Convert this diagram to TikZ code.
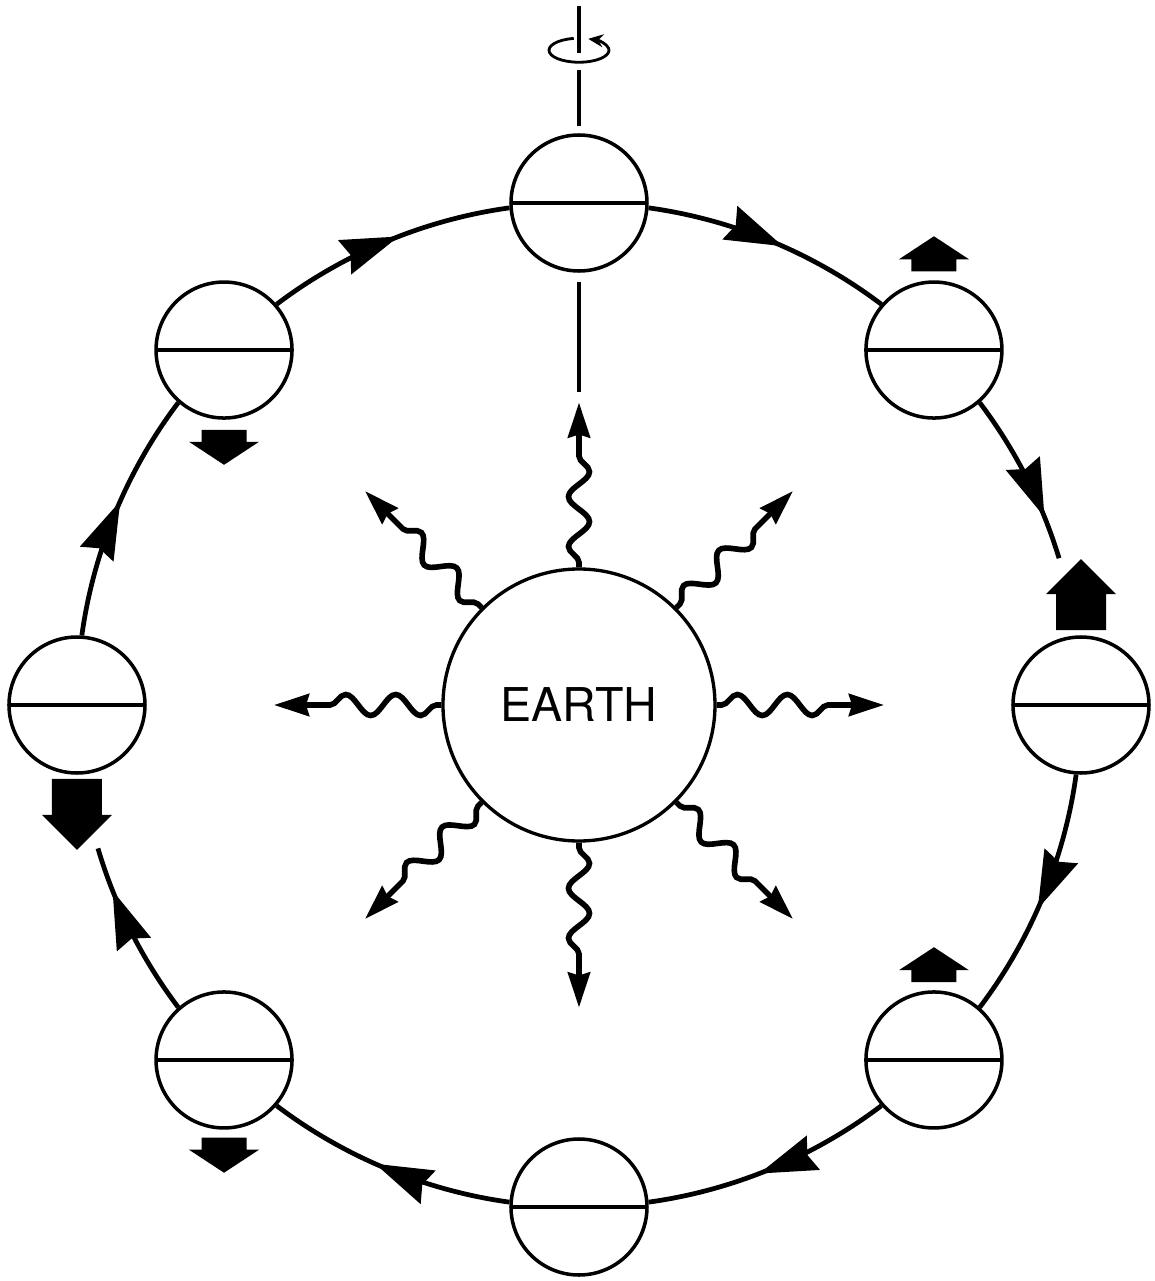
\documentclass[tikz,border=0pt]{standalone}
\usepackage{fontspec}
\setmainfont{TeX Gyre Heros}
\usepackage{tikz}
\usetikzlibrary{arrows.meta,decorations.pathmorphing,decorations.markings}

\begin{document}
\begin{tikzpicture}[
    earth/.style={draw, circle, line width=1.9pt, minimum size=5.44cm, inner sep=0pt, font=\fontsize{26.5}{30}\selectfont},
    sat/.style={draw, circle, line width=2pt, minimum size=2.72cm, inner sep=0pt,
      path picture={\draw[line width=2pt] (path picture bounding box.west) -- (path picture bounding box.east);}},
    orbit/.style={line width=2.7pt, looseness=0.86, postaction={decorate},
      decoration={markings, mark=at position #1 with {\arrow{Stealth[length=1.15cm, width=0.72cm, inset=0.12cm]}}}},
    orbit/.default=0.55,
    wave/.style={line width=3.2pt, decorate,
      decoration={snake, segment length=1cm, amplitude=0.21cm, pre length=0.1cm, post length=0.9cm},
      -{Stealth[length=0.7cm, width=0.44cm, inset=0.06cm]}},
    axis/.style={line width=1.9pt},
    smallblk/.pic={\fill (-0.45,0) -- (-0.45,0.24) -- (-0.7,0.24) -- (0,0.7) -- (0.7,0.24) -- (0.45,0.24) -- (0.45,0) -- cycle;},
    bigblk/.pic={\fill (-0.5,0) -- (-0.5,0.72) -- (-0.7,0.72) -- (0,1.42) -- (0.7,0.72) -- (0.5,0.72) -- (0.5,0) -- cycle;}
  ]
    \useasboundingbox (-11.58,-11.52) rectangle (11.5,14.1);

    \node[earth] (earth) at (0,0) {EARTH};

    \node[sat] (sN)  at (90:10.04)   {};
    \node[sat] (sNE) at (45:10.04)   {};
    \node[sat] (sE)  at (0:10.04)    {};
    \node[sat] (sSE) at (-45:10.04)  {};
    \node[sat] (sS)  at (-90:10.04)  {};
    \node[sat] (sSW) at (-135:10.04) {};
    \node[sat] (sW)  at (180:10.04)  {};
    \node[sat] (sNW) at (135:10.04)  {};

    \coordinate (gapE) at (17:10.04);
    \coordinate (gapW) at (196.6:10.04);

    \draw[orbit]      (sN.-4)    to[bend left=14.7] (sNE.139);
    \draw[orbit=0.75] (sNE.-49)  to[bend left=10.1] (gapE);
    \draw[orbit]      (sE.-94)   to[bend left=14.7] (sSE.49);
    \draw[orbit]      (sSE.-139) to[bend left=14.7] (sS.4);
    \draw[orbit]      (sS.176)   to[bend left=14.7] (sSW.-41);
    \draw[orbit=0.75] (sSW.131)  to[bend left=10.3] (gapW);
    \draw[orbit]      (sW.86)    to[bend left=14.7] (sNW.-131);
    \draw[orbit]      (sNW.41)   to[bend left=14.7] (sN.184);

    \pic at ([yshift=0.18cm]sNE.north) {smallblk};
    \pic at ([yshift=0.1cm]sE.north) {bigblk};
    \pic at ([yshift=0.16cm]sSE.north) {smallblk};
    \pic[rotate=180] at ([yshift=-0.2cm]sNW.south) {smallblk};
    \pic[rotate=180] at ([yshift=-0.08cm]sW.south) {bigblk};
    \pic[rotate=180] at ([yshift=-0.16cm]sSW.south) {smallblk};

    \draw[axis] ([yshift=0.14cm]sN.north) -- ([yshift=1.26cm]sN.north);
    \draw[axis] ([yshift=1.6cm]sN.north) -- ([yshift=2.54cm]sN.north);
    \draw[axis] ([yshift=-0.18cm]sN.south) -- ([yshift=-2.38cm]sN.south);
    \draw[line width=1.6pt, -{Stealth[length=0.3cm, width=0.26cm]}]
      ([yshift=1.66cm]sN.north) ++(100:0.6cm and 0.24cm)
      arc[start angle=100, end angle=432, x radius=0.6cm, y radius=0.24cm];

    \coordinate (tipN)  at (90:6.05);
    \coordinate (tipNE) at (45:6.05);
    \coordinate (tipE)  at (0:6.1);
    \coordinate (tipSE) at (-45:6.05);
    \coordinate (tipS)  at (-90:6.05);
    \coordinate (tipSW) at (-135:6.05);
    \coordinate (tipW)  at (180:6.1);
    \coordinate (tipNW) at (135:6.05);

    \draw[wave] (earth.90)   -- (tipN);
    \draw[wave] (earth.45)   -- (tipNE);
    \draw[wave] (earth.0)    -- (tipE);
    \draw[wave] (earth.-45)  -- (tipSE);
    \draw[wave] (earth.-90)  -- (tipS);
    \draw[wave] (earth.-135) -- (tipSW);
    \draw[wave] (earth.180)  -- (tipW);
    \draw[wave] (earth.135)  -- (tipNW);
  \end{tikzpicture}
\end{document}
